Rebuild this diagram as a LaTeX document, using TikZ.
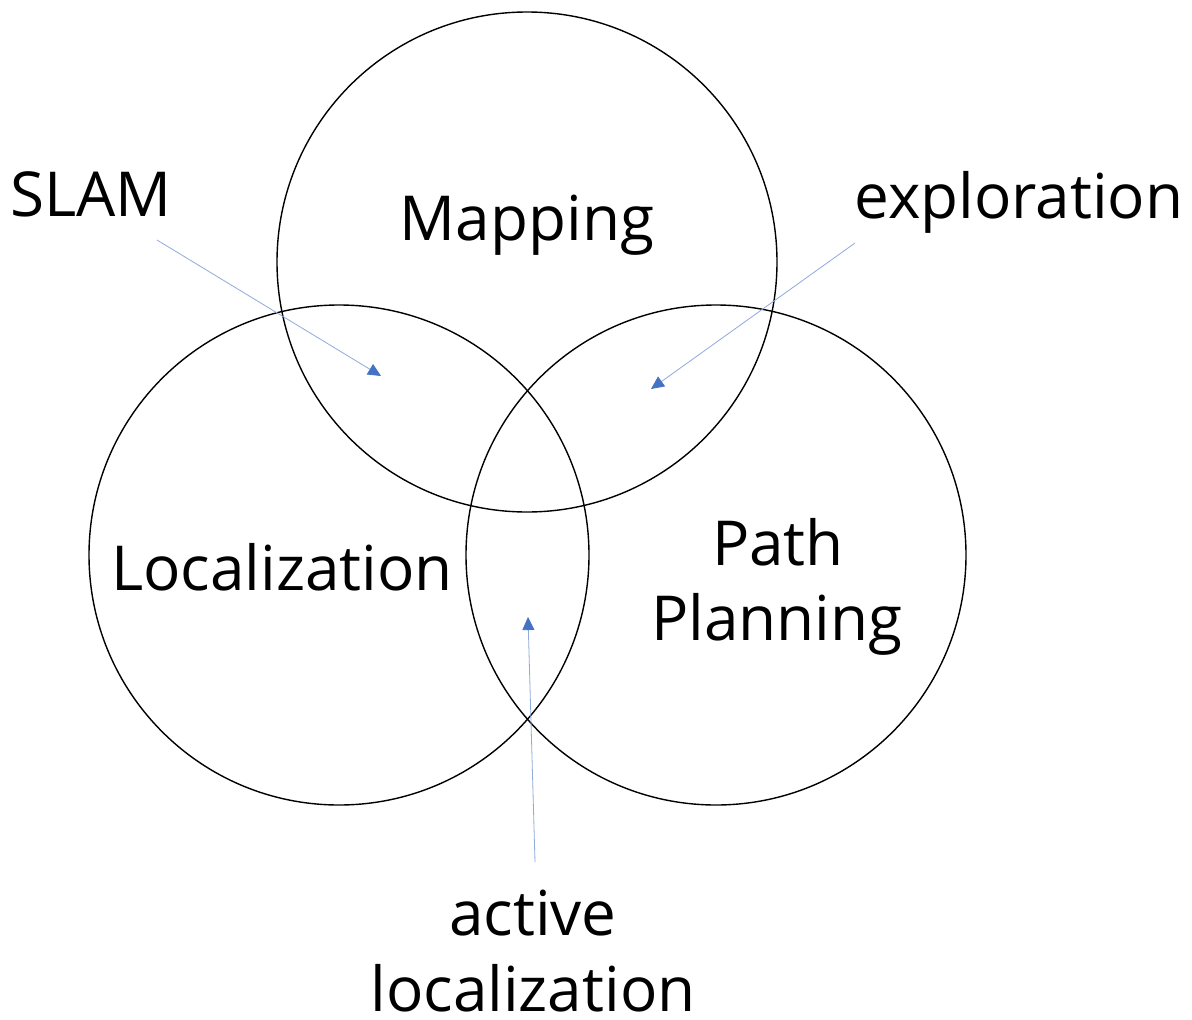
\documentclass[tikz,border=0pt]{standalone}
\usepackage{fontspec}
\setmainfont{Open Sans}
\usetikzlibrary{arrows.meta}
\definecolor{arrline}{HTML}{8FAADC}
\definecolor{arrhead}{HTML}{4472C4}
\begin{document}
\begin{tikzpicture}[x=1pt,y=-1pt,
  setc/.style={draw=black,line width=1.4pt,circle,minimum size=500pt,inner sep=0pt},
  lbl/.style={font=\fontsize{62}{74}\selectfont,inner sep=0pt,anchor=base},
  pointer/.style={draw=arrline,line width=0.8pt,-{Triangle[length=13pt,width=12pt,fill=arrhead,color=arrhead]}}]
\useasboundingbox[fill=white] (0,0) rectangle (1192,1020);
\node[setc] (map) at (527,262) {};
\node[setc] (loc) at (339,555) {};
\node[setc] (path) at (716,555) {};
\node[lbl] (tmap) at (527,240) {Mapping};
\node[lbl] (tloc) at (282,590) {Localization};
\node[lbl] (tpath1) at (778,565) {Path};
\node[lbl] (tpath2) at (777,640) {Planning};
\node[lbl,anchor=base west] (tslam) at (10,216) {SLAM};
\node[lbl] (texp) at (1019,218) {exploration};
\node[lbl] (tact1) at (533,935) {active};
\node[lbl] (tact2) at (533,1011) {localization};
\coordinate (s1) at (157,240);
\coordinate (s2) at (381,376);
\coordinate (e1) at (855,243);
\coordinate (e2) at (651,389);
\coordinate (a1) at (535,862);
\coordinate (a2) at (528,617);
\draw[pointer] (s1) -- (s2);
\draw[pointer] (e1) -- (e2);
\draw[pointer] (a1) -- (a2);
\end{tikzpicture}
\end{document}
